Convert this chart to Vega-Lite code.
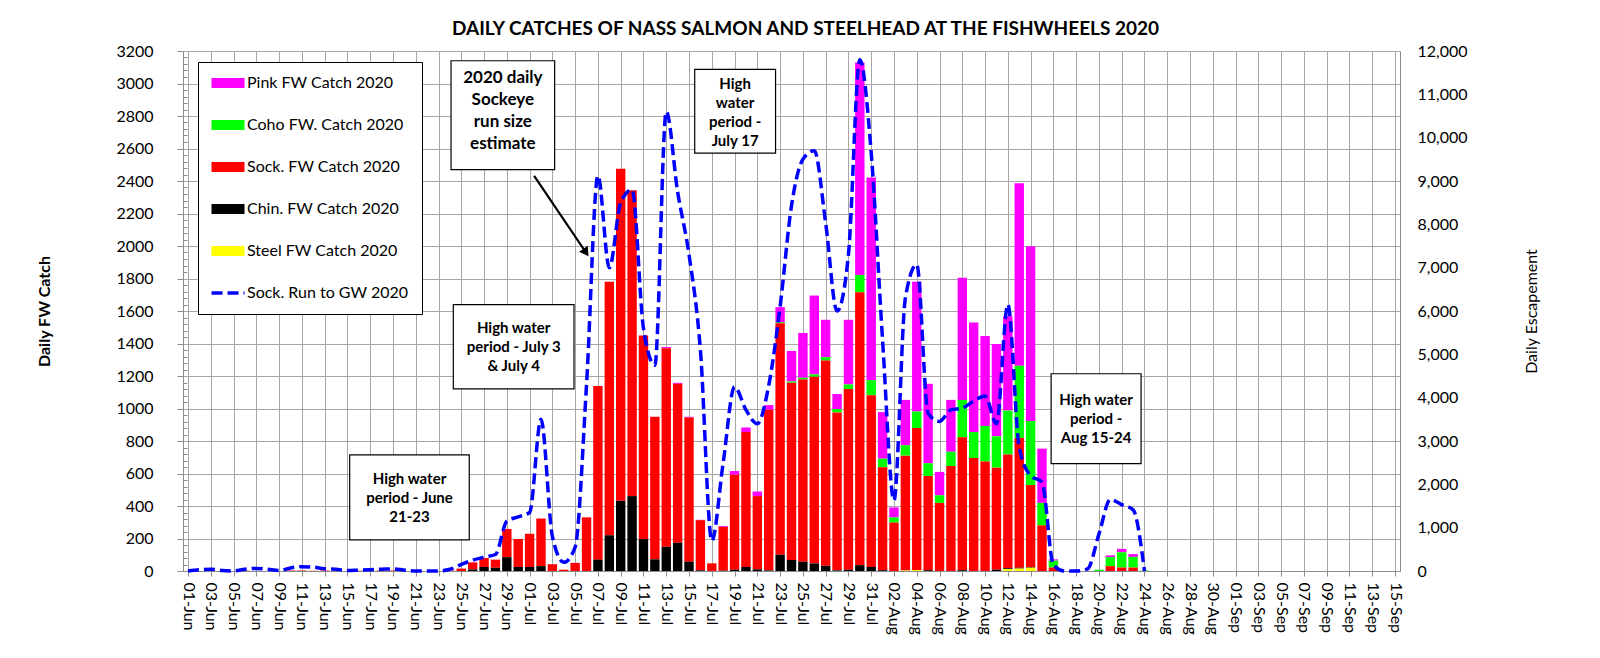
{
  "$schema": "https://vega.github.io/schema/vega-lite/v6.json",
  "width": 1217,
  "height": 520,
  "autosize": "none",
  "padding": {"left": 183, "top": 51, "right": 200, "bottom": 87},
  "background": "white",
  "config": {
    "font": "Lato",
    "view": {"stroke": null},
    "axis": {"labelFont": "Lato", "labelColor": "black", "titleFont": "Lato", "titleColor": "black", "domainColor": "#8c8c8c", "tickColor": "#8c8c8c", "gridColor": "#a6a6a6", "gridWidth": 1}
  },
  "title": {"text": "DAILY CATCHES OF NASS SALMON AND STEELHEAD AT THE FISHWHEELS 2020", "font": "Lato", "fontSize": 19, "fontWeight": "bold", "color": "black", "anchor": "middle", "frame": "group", "dx": 14, "offset": 4},
  "datasets": {
    "daily": [
      {"date": "2020-06-01T00:00", "Pink": 0, "Coho": 0, "Sock": 0, "Chin": 0, "Steel": 0, "Run": 0},
      {"date": "2020-06-02T00:00", "Pink": 0, "Coho": 0, "Sock": 0, "Chin": 0, "Steel": 0, "Run": 30},
      {"date": "2020-06-03T00:00", "Pink": 0, "Coho": 0, "Sock": 0, "Chin": 0, "Steel": 0, "Run": 40},
      {"date": "2020-06-04T00:00", "Pink": 0, "Coho": 0, "Sock": 0, "Chin": 0, "Steel": 0, "Run": 10},
      {"date": "2020-06-05T00:00", "Pink": 0, "Coho": 0, "Sock": 0, "Chin": 0, "Steel": 0, "Run": 0},
      {"date": "2020-06-06T00:00", "Pink": 0, "Coho": 0, "Sock": 2, "Chin": 0, "Steel": 0, "Run": 40},
      {"date": "2020-06-07T00:00", "Pink": 0, "Coho": 0, "Sock": 0, "Chin": 0, "Steel": 0, "Run": 60},
      {"date": "2020-06-08T00:00", "Pink": 0, "Coho": 0, "Sock": 0, "Chin": 0, "Steel": 0, "Run": 40},
      {"date": "2020-06-09T00:00", "Pink": 0, "Coho": 0, "Sock": 0, "Chin": 0, "Steel": 0, "Run": 10},
      {"date": "2020-06-10T00:00", "Pink": 0, "Coho": 0, "Sock": 3, "Chin": 0, "Steel": 0, "Run": 70},
      {"date": "2020-06-11T00:00", "Pink": 0, "Coho": 0, "Sock": 3, "Chin": 0, "Steel": 0, "Run": 100},
      {"date": "2020-06-12T00:00", "Pink": 0, "Coho": 0, "Sock": 2, "Chin": 0, "Steel": 0, "Run": 90},
      {"date": "2020-06-13T00:00", "Pink": 0, "Coho": 0, "Sock": 3, "Chin": 0, "Steel": 0, "Run": 50},
      {"date": "2020-06-14T00:00", "Pink": 0, "Coho": 0, "Sock": 2, "Chin": 0, "Steel": 0, "Run": 40},
      {"date": "2020-06-15T00:00", "Pink": 0, "Coho": 0, "Sock": 0, "Chin": 0, "Steel": 0, "Run": 10},
      {"date": "2020-06-16T00:00", "Pink": 0, "Coho": 0, "Sock": 2, "Chin": 0, "Steel": 0, "Run": 20},
      {"date": "2020-06-17T00:00", "Pink": 0, "Coho": 0, "Sock": 0, "Chin": 0, "Steel": 0, "Run": 30},
      {"date": "2020-06-18T00:00", "Pink": 0, "Coho": 0, "Sock": 3, "Chin": 0, "Steel": 0, "Run": 40},
      {"date": "2020-06-19T00:00", "Pink": 0, "Coho": 0, "Sock": 3, "Chin": 0, "Steel": 0, "Run": 50},
      {"date": "2020-06-20T00:00", "Pink": 0, "Coho": 0, "Sock": 0, "Chin": 0, "Steel": 0, "Run": 20},
      {"date": "2020-06-21T00:00", "Pink": 0, "Coho": 0, "Sock": 0, "Chin": 0, "Steel": 0, "Run": 0},
      {"date": "2020-06-22T00:00", "Pink": 0, "Coho": 0, "Sock": 0, "Chin": 0, "Steel": 0, "Run": 0},
      {"date": "2020-06-23T00:00", "Pink": 0, "Coho": 0, "Sock": 0, "Chin": 0, "Steel": 0, "Run": 0},
      {"date": "2020-06-24T00:00", "Pink": 0, "Coho": 0, "Sock": 3, "Chin": 0, "Steel": 0, "Run": 40},
      {"date": "2020-06-25T00:00", "Pink": 0, "Coho": 0, "Sock": 15, "Chin": 0, "Steel": 0, "Run": 150},
      {"date": "2020-06-26T00:00", "Pink": 0, "Coho": 0, "Sock": 43, "Chin": 10, "Steel": 0, "Run": 250},
      {"date": "2020-06-27T00:00", "Pink": 0, "Coho": 0, "Sock": 55, "Chin": 25, "Steel": 0, "Run": 320},
      {"date": "2020-06-28T00:00", "Pink": 0, "Coho": 0, "Sock": 50, "Chin": 20, "Steel": 0, "Run": 380},
      {"date": "2020-06-29T00:00", "Pink": 0, "Coho": 0, "Sock": 174, "Chin": 85, "Steel": 0, "Run": 1150},
      {"date": "2020-06-30T00:00", "Pink": 0, "Coho": 0, "Sock": 172, "Chin": 25, "Steel": 0, "Run": 1250},
      {"date": "2020-07-01T00:00", "Pink": 0, "Coho": 0, "Sock": 204, "Chin": 25, "Steel": 0, "Run": 1350},
      {"date": "2020-07-02T00:00", "Pink": 0, "Coho": 0, "Sock": 293, "Chin": 30, "Steel": 0, "Run": 3500},
      {"date": "2020-07-03T00:00", "Pink": 0, "Coho": 0, "Sock": 42, "Chin": 0, "Steel": 0, "Run": 800},
      {"date": "2020-07-04T00:00", "Pink": 0, "Coho": 0, "Sock": 8, "Chin": 0, "Steel": 0, "Run": 200},
      {"date": "2020-07-05T00:00", "Pink": 0, "Coho": 0, "Sock": 50, "Chin": 0, "Steel": 0, "Run": 550},
      {"date": "2020-07-06T00:00", "Pink": 0, "Coho": 0, "Sock": 330, "Chin": 0, "Steel": 0, "Run": 4300},
      {"date": "2020-07-07T00:00", "Pink": 0, "Coho": 0, "Sock": 1068, "Chin": 70, "Steel": 0, "Run": 9120},
      {"date": "2020-07-08T00:00", "Pink": 0, "Coho": 0, "Sock": 1560, "Chin": 220, "Steel": 0, "Run": 7000},
      {"date": "2020-07-09T00:00", "Pink": 0, "Coho": 0, "Sock": 2043, "Chin": 432, "Steel": 0, "Run": 8500},
      {"date": "2020-07-10T00:00", "Pink": 0, "Coho": 0, "Sock": 1882, "Chin": 461, "Steel": 0, "Run": 8800},
      {"date": "2020-07-11T00:00", "Pink": 0, "Coho": 0, "Sock": 1254, "Chin": 196, "Steel": 0, "Run": 5600},
      {"date": "2020-07-12T00:00", "Pink": 0, "Coho": 0, "Sock": 878, "Chin": 72, "Steel": 0, "Run": 4750},
      {"date": "2020-07-13T00:00", "Pink": 7, "Coho": 0, "Sock": 1222, "Chin": 149, "Steel": 0, "Run": 10600},
      {"date": "2020-07-14T00:00", "Pink": 6, "Coho": 0, "Sock": 978, "Chin": 174, "Steel": 0, "Run": 8750},
      {"date": "2020-07-15T00:00", "Pink": 5, "Coho": 0, "Sock": 887, "Chin": 57, "Steel": 0, "Run": 7300},
      {"date": "2020-07-16T00:00", "Pink": 2, "Coho": 0, "Sock": 309, "Chin": 4, "Steel": 0, "Run": 5100},
      {"date": "2020-07-17T00:00", "Pink": 0, "Coho": 0, "Sock": 47, "Chin": 0, "Steel": 0, "Run": 700},
      {"date": "2020-07-18T00:00", "Pink": 5, "Coho": 0, "Sock": 270, "Chin": 2, "Steel": 0, "Run": 2500},
      {"date": "2020-07-19T00:00", "Pink": 22, "Coho": 0, "Sock": 585, "Chin": 8, "Steel": 0, "Run": 4250},
      {"date": "2020-07-20T00:00", "Pink": 28, "Coho": 0, "Sock": 830, "Chin": 25, "Steel": 0, "Run": 3720},
      {"date": "2020-07-21T00:00", "Pink": 28, "Coho": 0, "Sock": 451, "Chin": 10, "Steel": 0, "Run": 3400},
      {"date": "2020-07-22T00:00", "Pink": 28, "Coho": 0, "Sock": 989, "Chin": 4, "Steel": 0, "Run": 4280},
      {"date": "2020-07-23T00:00", "Pink": 93, "Coho": 6, "Sock": 1425, "Chin": 100, "Steel": 0, "Run": 6100},
      {"date": "2020-07-24T00:00", "Pink": 187, "Coho": 8, "Sock": 1091, "Chin": 68, "Steel": 0, "Run": 8430},
      {"date": "2020-07-25T00:00", "Pink": 276, "Coho": 11, "Sock": 1121, "Chin": 57, "Steel": 0, "Run": 9500},
      {"date": "2020-07-26T00:00", "Pink": 485, "Coho": 15, "Sock": 1148, "Chin": 47, "Steel": 0, "Run": 9700},
      {"date": "2020-07-27T00:00", "Pink": 230, "Coho": 21, "Sock": 1263, "Chin": 32, "Steel": 0, "Run": 8030},
      {"date": "2020-07-28T00:00", "Pink": 92, "Coho": 21, "Sock": 972, "Chin": 4, "Steel": 0, "Run": 6000},
      {"date": "2020-07-29T00:00", "Pink": 398, "Coho": 28, "Sock": 1112, "Chin": 8, "Steel": 0, "Run": 7300},
      {"date": "2020-07-30T00:00", "Pink": 1308, "Coho": 106, "Sock": 1680, "Chin": 36, "Steel": 0, "Run": 11800},
      {"date": "2020-07-31T00:00", "Pink": 1248, "Coho": 92, "Sock": 1057, "Chin": 25, "Steel": 0, "Run": 9650},
      {"date": "2020-08-01T00:00", "Pink": 287, "Coho": 53, "Sock": 633, "Chin": 5, "Steel": 0, "Run": 5320},
      {"date": "2020-08-02T00:00", "Pink": 61, "Coho": 32, "Sock": 298, "Chin": 0, "Steel": 0, "Run": 1630},
      {"date": "2020-08-03T00:00", "Pink": 279, "Coho": 64, "Sock": 707, "Chin": 0, "Steel": 3, "Run": 6300},
      {"date": "2020-08-04T00:00", "Pink": 798, "Coho": 102, "Sock": 875, "Chin": 0, "Steel": 5, "Run": 7070},
      {"date": "2020-08-05T00:00", "Pink": 489, "Coho": 78, "Sock": 580, "Chin": 5, "Steel": 0, "Run": 3640},
      {"date": "2020-08-06T00:00", "Pink": 144, "Coho": 47, "Sock": 419, "Chin": 0, "Steel": 0, "Run": 3450},
      {"date": "2020-08-07T00:00", "Pink": 319, "Coho": 88, "Sock": 646, "Chin": 0, "Steel": 0, "Run": 3720},
      {"date": "2020-08-08T00:00", "Pink": 752, "Coho": 230, "Sock": 818, "Chin": 5, "Steel": 0, "Run": 3760},
      {"date": "2020-08-09T00:00", "Pink": 674, "Coho": 160, "Sock": 695, "Chin": 0, "Steel": 0, "Run": 3920},
      {"date": "2020-08-10T00:00", "Pink": 553, "Coho": 219, "Sock": 674, "Chin": 0, "Steel": 0, "Run": 4040},
      {"date": "2020-08-11T00:00", "Pink": 568, "Coho": 193, "Sock": 628, "Chin": 8, "Steel": 0, "Run": 3400},
      {"date": "2020-08-12T00:00", "Pink": 580, "Coho": 270, "Sock": 700, "Chin": 5, "Steel": 12, "Run": 6150},
      {"date": "2020-08-13T00:00", "Pink": 1123, "Coho": 444, "Sock": 799, "Chin": 5, "Steel": 15, "Run": 2850},
      {"date": "2020-08-14T00:00", "Pink": 1076, "Coho": 394, "Sock": 506, "Chin": 3, "Steel": 20, "Run": 2200},
      {"date": "2020-08-15T00:00", "Pink": 334, "Coho": 138, "Sock": 281, "Chin": 0, "Steel": 0, "Run": 2050},
      {"date": "2020-08-16T00:00", "Pink": 8, "Coho": 43, "Sock": 21, "Chin": 0, "Steel": 0, "Run": 140},
      {"date": "2020-08-17T00:00", "Pink": 0, "Coho": 0, "Sock": 0, "Chin": 0, "Steel": 0, "Run": 0},
      {"date": "2020-08-18T00:00", "Pink": 0, "Coho": 0, "Sock": 0, "Chin": 0, "Steel": 0, "Run": 0},
      {"date": "2020-08-19T00:00", "Pink": 0, "Coho": 0, "Sock": 0, "Chin": 0, "Steel": 0, "Run": 50},
      {"date": "2020-08-20T00:00", "Pink": 0, "Coho": 8, "Sock": 0, "Chin": 0, "Steel": 0, "Run": 850},
      {"date": "2020-08-21T00:00", "Pink": 11, "Coho": 55, "Sock": 30, "Chin": 0, "Steel": 0, "Run": 1650},
      {"date": "2020-08-22T00:00", "Pink": 21, "Coho": 94, "Sock": 21, "Chin": 0, "Steel": 0, "Run": 1530},
      {"date": "2020-08-23T00:00", "Pink": 17, "Coho": 66, "Sock": 21, "Chin": 0, "Steel": 0, "Run": 1410},
      {"date": "2020-08-24T00:00", "Pink": 0, "Coho": 3, "Sock": 0, "Chin": 0, "Steel": 0, "Run": 0}
    ],
    "notes": [
      {"kind": "estimate", "start": "2020-06-24T02:24", "end": "2020-07-03T04:48", "center": "2020-06-28T15:36", "low": 2470, "high": 3140, "first": 3036, "text": "2020 daily\nSockeye\nrun size\nestimate"},
      {"kind": "water", "start": "2020-06-24T07:12", "end": "2020-07-04T21:36", "center": "2020-06-29T14:24", "low": 1121, "high": 1639, "first": 1495, "text": "High water\nperiod - July 3\n& July 4"},
      {"kind": "water", "start": "2020-06-15T04:48", "end": "2020-06-25T16:48", "center": "2020-06-20T10:48", "low": 191, "high": 715, "first": 569, "text": "High water\nperiod - June\n21-23"},
      {"kind": "water", "start": "2020-07-15T12:00", "end": "2020-07-22T14:24", "center": "2020-07-19T01:12", "low": 2571, "high": 3087, "first": 2998, "text": "High\nwater\nperiod -\nJuly 17"},
      {"kind": "water", "start": "2020-08-15T19:12", "end": "2020-08-23T16:48", "center": "2020-08-19T18:00", "low": 661, "high": 1214, "first": 1050, "text": "High water\nperiod -\nAug 15-24"}
    ],
    "arrow": [
      {"from": "2020-07-01T09:36", "to": "2020-07-05T22:48", "vFrom": 2432, "vTo": 1960}
    ]
  },
  "layer": [
    {
      "data": {"name": "daily"},
      "transform": [
        {"fold": ["Pink", "Coho", "Sock", "Chin", "Steel"], "as": ["species", "catch"]},
        {"calculate": "indexof(['Steel','Chin','Sock','Coho','Pink'], datum.species)", "as": "stackOrder"}
      ],
      "mark": {"type": "bar", "width": 9.4},
      "encoding": {
        "x": {
          "field": "date", "type": "temporal",
          "scale": {"domain": [{"year": 2020, "month": 6, "date": 1}, {"year": 2020, "month": 9, "date": 15}]},
          "axis": {
            "title": null, "format": "%d-%b", "labelAngle": 90, "labelFontSize": 16, "tickSize": 5, "labelPadding": 6,
            "grid": true, "labelOverlap": false, "labelFlush": false, "labelBound": false, "tickCount": 200,
            "values": [
              {"year": 2020, "month": 6, "date": 1}, {"year": 2020, "month": 6, "date": 3}, {"year": 2020, "month": 6, "date": 5}, {"year": 2020, "month": 6, "date": 7}, {"year": 2020, "month": 6, "date": 9}, {"year": 2020, "month": 6, "date": 11}, {"year": 2020, "month": 6, "date": 13}, {"year": 2020, "month": 6, "date": 15}, {"year": 2020, "month": 6, "date": 17}, {"year": 2020, "month": 6, "date": 19}, {"year": 2020, "month": 6, "date": 21}, {"year": 2020, "month": 6, "date": 23}, {"year": 2020, "month": 6, "date": 25}, {"year": 2020, "month": 6, "date": 27}, {"year": 2020, "month": 6, "date": 29},
              {"year": 2020, "month": 7, "date": 1}, {"year": 2020, "month": 7, "date": 3}, {"year": 2020, "month": 7, "date": 5}, {"year": 2020, "month": 7, "date": 7}, {"year": 2020, "month": 7, "date": 9}, {"year": 2020, "month": 7, "date": 11}, {"year": 2020, "month": 7, "date": 13}, {"year": 2020, "month": 7, "date": 15}, {"year": 2020, "month": 7, "date": 17}, {"year": 2020, "month": 7, "date": 19}, {"year": 2020, "month": 7, "date": 21}, {"year": 2020, "month": 7, "date": 23}, {"year": 2020, "month": 7, "date": 25}, {"year": 2020, "month": 7, "date": 27}, {"year": 2020, "month": 7, "date": 29}, {"year": 2020, "month": 7, "date": 31},
              {"year": 2020, "month": 8, "date": 2}, {"year": 2020, "month": 8, "date": 4}, {"year": 2020, "month": 8, "date": 6}, {"year": 2020, "month": 8, "date": 8}, {"year": 2020, "month": 8, "date": 10}, {"year": 2020, "month": 8, "date": 12}, {"year": 2020, "month": 8, "date": 14}, {"year": 2020, "month": 8, "date": 16}, {"year": 2020, "month": 8, "date": 18}, {"year": 2020, "month": 8, "date": 20}, {"year": 2020, "month": 8, "date": 22}, {"year": 2020, "month": 8, "date": 24}, {"year": 2020, "month": 8, "date": 26}, {"year": 2020, "month": 8, "date": 28}, {"year": 2020, "month": 8, "date": 30},
              {"year": 2020, "month": 9, "date": 1}, {"year": 2020, "month": 9, "date": 3}, {"year": 2020, "month": 9, "date": 5}, {"year": 2020, "month": 9, "date": 7}, {"year": 2020, "month": 9, "date": 9}, {"year": 2020, "month": 9, "date": 11}, {"year": 2020, "month": 9, "date": 13}, {"year": 2020, "month": 9, "date": 15}
            ]
          }
        },
        "y": {
          "field": "catch", "type": "quantitative", "stack": "zero",
          "scale": {"domain": [0, 3200], "nice": false},
          "axis": {
            "orient": "left", "format": "d", "grid": true, "tickCount": 200,
            "values": [0,40,80,120,160,200,240,280,320,360,400,440,480,520,560,600,640,680,720,760,800,840,880,920,960,1000,1040,1080,1120,1160,1200,1240,1280,1320,1360,1400,1440,1480,1520,1560,1600,1640,1680,1720,1760,1800,1840,1880,1920,1960,2000,2040,2080,2120,2160,2200,2240,2280,2320,2360,2400,2440,2480,2520,2560,2600,2640,2680,2720,2760,2800,2840,2880,2920,2960,3000,3040,3080,3120,3160,3200],
            "labelExpr": "datum.value % 200 === 0 ? datum.label : ''",
            "gridOpacity": {"condition": {"test": "datum.value % 200 === 0", "value": 1}, "value": 0},
            "tickSize": {"condition": {"test": "datum.value % 200 === 0", "value": 6}, "value": -4},
            "labelFontSize": 16, "labelPadding": 24,
            "title": "Daily FW Catch", "titleFontSize": 16, "titleFontWeight": "bold", "titleAngle": -90,
            "titleX": -139, "titleY": 260, "titleAlign": "center", "titleBaseline": "middle"
          }
        },
        "color": {
          "field": "species", "type": "nominal",
          "scale": {"domain": ["Pink", "Coho", "Sock", "Chin", "Steel", "Run"], "range": ["#ff00ff", "#00ff00", "#ff0000", "#000000", "#ffff00", "#0000ff"]},
          "legend": {
            "orient": "none", "legendX": 15, "legendY": 11, "title": null, "direction": "vertical",
            "fillColor": "white", "strokeColor": "black", "padding": 13, "rowPadding": 26,
            "symbolSize": 1089, "symbolOffset": 9, "labelFont": "Lato", "labelFontSize": 16, "labelColor": "black", "labelOffset": 11, "labelLimit": 0,
            "labelExpr": "datum.value === 'Pink' ? 'Pink FW Catch 2020' : datum.value === 'Coho' ? 'Coho FW. Catch 2020' : datum.value === 'Sock' ? 'Sock. FW Catch 2020' : datum.value === 'Chin' ? 'Chin. FW Catch 2020' : datum.value === 'Steel' ? 'Steel FW Catch 2020' : 'Sock. Run to GW 2020'",
            "encoding": {
              "symbols": {
                "shape": {"value": {"expr": "datum.value === 'Run' ? 'stroke' : 'M-1,-0.3H1V0.3H-1Z'"}},
                "fill": {"value": {"expr": "datum.value === 'Pink' ? '#ff00ff' : datum.value === 'Coho' ? '#00ff00' : datum.value === 'Sock' ? '#ff0000' : datum.value === 'Chin' ? '#000000' : datum.value === 'Steel' ? '#ffff00' : 'transparent'"}},
                "stroke": {"value": {"expr": "datum.value === 'Run' ? '#0000ff' : 'transparent'"}},
                "strokeWidth": {"value": {"expr": "datum.value === 'Run' ? 3.5 : 0"}},
                "strokeDash": {"value": {"expr": "datum.value === 'Run' ? [11, 5] : [1, 0]"}},
                "opacity": {"value": 1}
              }
            }
          }
        },
        "order": {"field": "stackOrder", "type": "quantitative"}
      }
    },
    {
      "data": {"name": "daily"},
      "mark": {"type": "line", "strokeWidth": 3.5, "strokeDash": [11, 5], "interpolate": "monotone"},
      "encoding": {
        "x": {"field": "date", "type": "temporal", "scale": {"domain": [{"year": 2020, "month": 6, "date": 1}, {"year": 2020, "month": 9, "date": 15}]}},
        "y": {
          "field": "Run", "type": "quantitative",
          "scale": {"domain": [0, 12000], "nice": false},
          "axis": {
            "orient": "right", "format": ",.0f", "grid": false, "ticks": false, "tickCount": 50,
            "values": [0,1000,2000,3000,4000,5000,6000,7000,8000,9000,10000,11000,12000],
            "labelFontSize": 16, "labelPadding": 17,
            "title": "Daily Escapement", "titleFontSize": 16, "titleFontWeight": "normal", "titleAngle": -90,
            "titleX": 131, "titleY": 260, "titleAlign": "center", "titleBaseline": "middle"
          }
        },
        "color": {"datum": "Run", "type": "nominal"}
      }
    },
    {
      "layer": [
        {
          "data": {"name": "notes"},
          "mark": {"type": "rect", "fill": "white", "stroke": "black", "strokeWidth": 1.2},
          "encoding": {
            "x": {"field": "start", "type": "temporal", "scale": {"domain": [{"year": 2020, "month": 6, "date": 1}, {"year": 2020, "month": 9, "date": 15}]}},
            "x2": {"field": "end"},
            "y": {"field": "low", "type": "quantitative", "scale": {"domain": [0, 3200], "nice": false}, "axis": null},
            "y2": {"field": "high"}
          }
        },
        {
          "data": {"name": "notes"},
          "transform": [{"filter": "datum.kind === 'estimate'"}],
          "mark": {"type": "text", "font": "Lato", "fontWeight": "bold", "fontSize": 17, "lineHeight": 22, "lineBreak": "\n", "align": "center", "baseline": "middle", "color": "black"},
          "encoding": {
            "x": {"field": "center", "type": "temporal"},
            "y": {"field": "first", "type": "quantitative"},
            "text": {"field": "text"}
          }
        },
        {
          "data": {"name": "notes"},
          "transform": [{"filter": "datum.kind === 'water'"}],
          "mark": {"type": "text", "font": "Lato", "fontWeight": "bold", "fontSize": 15, "lineHeight": 19, "lineBreak": "\n", "align": "center", "baseline": "middle", "color": "black"},
          "encoding": {
            "x": {"field": "center", "type": "temporal"},
            "y": {"field": "first", "type": "quantitative"},
            "text": {"field": "text"}
          }
        },
        {
          "data": {"name": "arrow"},
          "mark": {"type": "rule", "color": "black", "strokeWidth": 2.2},
          "encoding": {
            "x": {"field": "from", "type": "temporal"},
            "x2": {"field": "to"},
            "y": {"field": "vFrom", "type": "quantitative"},
            "y2": {"field": "vTo"}
          }
        },
        {
          "data": {"name": "arrow"},
          "mark": {"type": "point", "shape": "triangle-down", "angle": -34, "size": 110, "filled": true, "color": "black", "opacity": 1},
          "encoding": {
            "x": {"field": "to", "type": "temporal"},
            "y": {"field": "vTo", "type": "quantitative"}
          }
        }
      ]
    }
  ],
  "resolve": {"scale": {"y": "independent"}}
}
